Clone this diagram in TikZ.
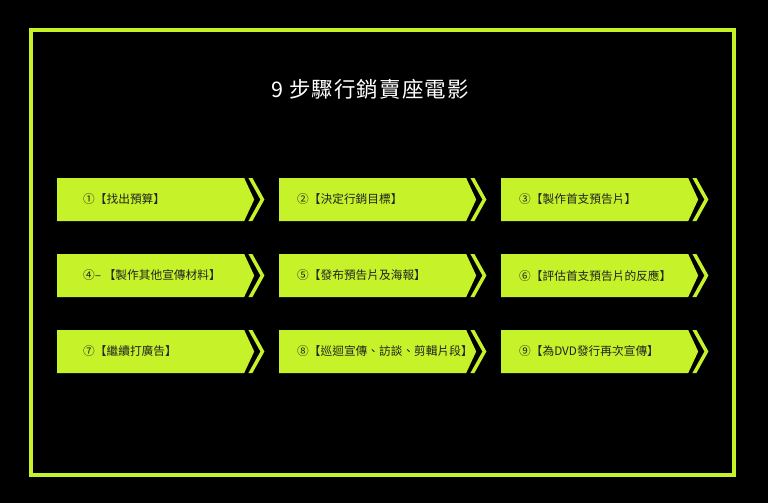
\documentclass[tikz,border=0pt]{standalone}
\usepackage{fontspec}
\setmainfont{Noto Sans CJK TC}
\newfontfamily\titlefont[LetterSpace=5]{Noto Sans CJK TC}
\usetikzlibrary{positioning,shapes.symbols}
\definecolor{lime}{RGB}{197,242,40}
\definecolor{ink}{RGB}{34,34,34}

\tikzset{
  stepbox/.style={shape=signal, signal to=east, signal pointer angle=130,
    fill=lime, draw=none, inner sep=0pt, minimum width=197, minimum height=43},
  steptext/.style={text=ink, font=\fontsize{11.7}{13}\selectfont, inner sep=0pt},
  chevron/.pic={\fill[lime] (-6,-21.5) -- (-2,-21.5) -- (10,0) -- (-2,21.5)
    -- (-6,21.5) -- (6,0) -- cycle;}
}

\begin{document}
\begin{tikzpicture}[x=1pt, y=-1pt]
          % background and frame
          \fill[black] (0,0) rectangle (768,503);
          \useasboundingbox (0,0) rectangle (768,503);
          \draw[lime, line width=4] (31,30) rectangle (734,475);

          % title
          \node[text=white, font=\titlefont\fontsize{21.5}{24}\selectfont] at (370,89)
          (title) {9 步驟行銷賣座電影};

          % steps
          \node[stepbox, anchor=west] at ( 57,199.5) (s1) {};
          \node[stepbox, anchor=west] at (279,199.5) (s2) {};
          \node[stepbox, anchor=west] at (501,199.5) (s3) {};
          \node[stepbox, anchor=west] at ( 57,275.5) (s4) {};
          \node[stepbox, anchor=west] at (279,275.5) (s5) {};
          \node[stepbox, anchor=west] at (501,275.5) (s6) {};
          \node[stepbox, anchor=west] at ( 57,351.5) (s7) {};
          \node[stepbox, anchor=west] at (279,351.5) (s8) {};
          \node[stepbox, anchor=west] at (501,351.5) (s9) {};

          % chevrons
          \pic at (s1.east) {chevron};
          \pic at (s2.east) {chevron};
          \pic at (s3.east) {chevron};
          \pic at (s4.east) {chevron};
          \pic at (s5.east) {chevron};
          \pic at (s6.east) {chevron};
          \pic at (s7.east) {chevron};
          \pic at (s8.east) {chevron};
          \pic at (s9.east) {chevron};

          % labels
          \node[steptext, right=26 of s1.west] (t1) {①【找出預算】};
          \node[steptext, right=18 of s2.west] (t2) {②【決定行銷目標】};
          \node[steptext, right=18 of s3.west] (t3) {③【製作首支預告片】};
          \node[steptext, right=26 of s4.west] (t4) {④–\ 【製作其他宣傳材料】};
          \node[steptext, right=18 of s5.west] (t5) {⑤【發布預告片及海報】};
          \node[steptext, right=18 of s6.west] (t6) {⑥【評估首支預告片的反應】};
          \node[steptext, right=26 of s7.west] (t7) {⑦【繼續打廣告】};
          \node[steptext, right=18 of s8.west] (t8) {⑧【巡迴宣傳、訪談、剪輯片段】};
          \node[steptext, right=18 of s9.west] (t9) {⑨【為DVD發行再次宣傳】};
        \end{tikzpicture}
\end{document}
